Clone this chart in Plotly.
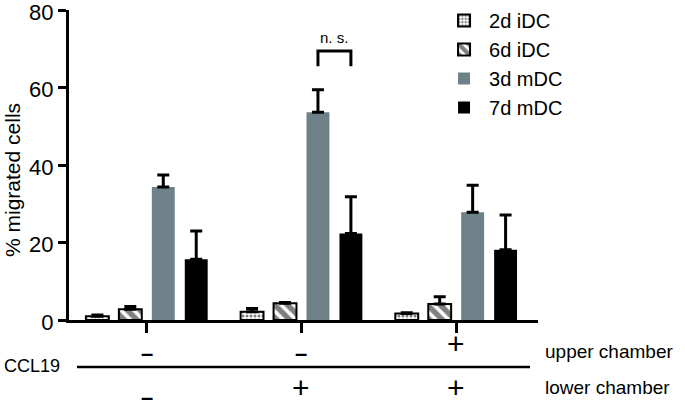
import plotly.graph_objects as go

groups = [0, 1, 2]
series = ["2d iDC", "6d iDC", "3d mDC", "7d mDC"]
means = {
    "2d iDC": [1.0, 2.1, 1.7],
    "6d iDC": [2.8, 4.3, 4.1],
    "3d mDC": [34.3, 53.6, 27.8],
    "7d mDC": [15.7, 22.3, 18.1],
}
errs = {
    "2d iDC": [0.3, 0.9, 0.2],
    "6d iDC": [0.7, 0.2, 1.9],
    "3d mDC": [3.1, 5.8, 7.0],
    "7d mDC": [7.3, 9.5, 9.0],
}
upper_labels = ["-", "-", "+"]
lower_labels = ["-", "+", "+"]
y_ticks = [0, 20, 40, 60, 80]

FONT = "Arial, Liberation Sans, sans-serif"
GRAY = "#6e8189"

W, H = 685, 413
PL, PR, PT, PB = 69, 538, 10, 320   # plot area in pixels


def px(x):
    return (x - PL) / (PR - PL)


def py(y):
    return (PB - y) / (PB - PT)


styles = {
    "2d iDC": dict(color="white", line=dict(color="black", width=2),
                   pattern=dict(shape=".", fgcolor="black", bgcolor="white", size=4, solidity=0.45)),
    "6d iDC": dict(color="white", line=dict(color="black", width=2),
                   pattern=dict(shape="\\", fgcolor="black", bgcolor="white", size=9, solidity=0.6)),
    "3d mDC": dict(color=GRAY, line=dict(color=GRAY, width=0)),
    "7d mDC": dict(color="black", line=dict(color="black", width=0)),
}

fig = go.Figure()
for i, s in enumerate(series):
    fig.add_trace(go.Bar(
        x=groups, y=means[s], name=s, marker=styles[s],
        legendgroup=s,
        error_y=dict(type="data", symmetric=False, array=errs[s],
                     arrayminus=[0] * len(groups), color="black",
                     thickness=3, width=6),
    ))

fig.update_layout(
    width=W, height=H,
    margin=dict(l=PL, r=W - PR, t=PT, b=H - PB, autoexpand=False),
    plot_bgcolor="white", paper_bgcolor="white",
    barmode="group", bargap=0.148, bargroupgap=0.305,
    font=dict(family=FONT, color="black"),
    showlegend=True,
    legend=dict(x=0.789, y=1.029, xanchor="left", yanchor="top",
                font=dict(size=20, family=FONT), tracegroupgap=0,
                itemwidth=40, bgcolor="rgba(0,0,0,0)"),
    xaxis=dict(range=[-0.503, 2.529], tickvals=groups, ticktext=["", "", ""],
               showline=True, linecolor="black", linewidth=3,
               ticks="outside", ticklen=10, tickwidth=3, tickcolor="black",
               showgrid=False, zeroline=False, automargin=False),
    yaxis=dict(range=[0, 80], tickvals=y_ticks,
               showline=True, linecolor="black", linewidth=3,
               ticks="outside", ticklen=8, tickwidth=3, tickcolor="black",
               tickfont=dict(size=22, family=FONT), showgrid=False,
               zeroline=False, automargin=False, ticklabeloverflow="allow",
               ticklabelshift=2),
)

# y-axis title
fig.add_annotation(text="% migrated cells", xref="paper", yref="paper",
                   x=px(12), y=py(180), textangle=-90, showarrow=False,
                   xanchor="center", yanchor="middle",
                   font=dict(size=21, family=FONT))

# condition labels
for g, u, l in zip(groups, upper_labels, lower_labels):
    for lab, row in ((u, 343), (l, 387)):
        if lab == "-":
            txt, size, ypos = "<b>–</b>", 22, row + 10
        else:
            txt, size, ypos = "+", 30, row
        fig.add_annotation(text=txt, xref="x", yref="paper", x=g,
                           y=py(ypos), showarrow=False,
                           xanchor="center", yanchor="middle",
                           font=dict(size=size, family=FONT))

fig.add_shape(type="line", xref="paper", yref="paper",
              x0=px(77), x1=px(530), y0=py(367), y1=py(367),
              line=dict(color="black", width=2.5))
fig.add_annotation(text="CCL19", xref="paper", yref="paper",
                   x=px(2), y=py(366), xanchor="left",
                   yanchor="middle", showarrow=False, font=dict(size=18, family=FONT))
fig.add_annotation(text="upper chamber", xref="paper", yref="paper",
                   x=px(543), y=py(351), xanchor="left",
                   yanchor="middle", showarrow=False, font=dict(size=19, family=FONT))
fig.add_annotation(text="lower chamber", xref="paper", yref="paper",
                   x=px(543), y=py(388), xanchor="left",
                   yanchor="middle", showarrow=False, font=dict(size=19, family=FONT))

# n.s. bracket between 3d mDC and 7d mDC of group 2
slot = (1 - 0.148) / 4
xa = 1 + 0.5 * slot
xb = 1 + 1.5 * slot
fig.add_shape(type="path", xref="x", yref="y",
              path=f"M {xa},65.5 L {xa},69.4 L {xb},69.4 L {xb},65.5",
              line=dict(color="black", width=3))
fig.add_annotation(text="n. s.", xref="x", yref="y", x=(xa + xb) / 2, y=70.3,
                   yanchor="bottom", showarrow=False, font=dict(size=15, family=FONT))

# remove the browser's default 8px body margin so the figure fills the window
fig.write_html("out.html", config={"displayModeBar": False},
               post_script="document.body.style.margin='0';")
